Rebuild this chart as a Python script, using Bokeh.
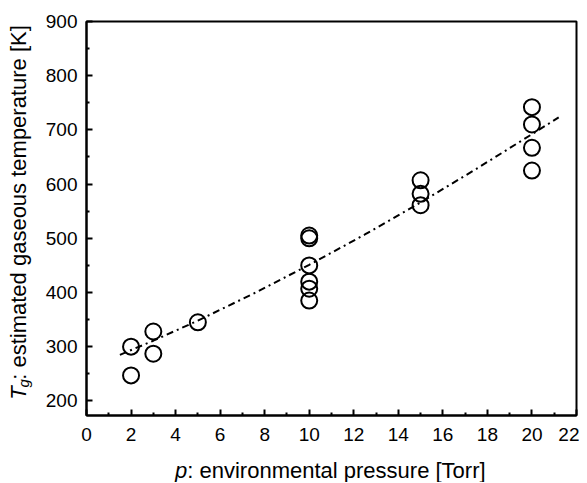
import math
from bokeh.plotting import figure
from bokeh.layouts import row, column
from bokeh.models import Range1d, FixedTicker, ColumnDataSource
from bokeh.core.properties import value
from bokeh.embed import file_html
from bokeh.resources import INLINE

# measured data: environmental pressure [Torr] vs estimated gaseous temperature [K]
pressure = [2, 2, 3, 3, 5, 10, 10, 10, 10, 10, 10, 15, 15, 15, 20, 20, 20, 20]
temperature = [300, 247, 328, 287, 345, 505, 500, 450, 420, 407, 385,
               607, 582, 561, 742, 710, 667, 625]

# fitted curve
fit_p = [1.5, 3, 5, 7.5, 10, 12.5, 15, 17.5, 20, 21.2]
fit_t = [285, 311, 348, 398, 451, 507, 566, 628, 692, 723]

x_ticks = [0, 2, 4, 6, 8, 10, 12, 14, 16, 18, 20, 22]
x_minor = [1, 3, 5, 7, 9, 11, 13, 15, 17, 19, 21]
y_ticks = [200, 300, 400, 500, 600, 700, 800, 900]
y_minor = [250, 350, 450, 550, 650, 750, 850]

x_title_parts = ["p", ": environmental pressure [Torr]"]
y_title_parts = ["T", "g", ": estimated gaseous temperature [K]"]

FONT = "Liberation Sans"
FS = 22      # axis title font size
SUB_FS = 15  # subscript size
YLAB_W = 40
MAIN_W = 539
MAIN_H = 450
XLAB_H = 32

# ---------------- main plot ----------------
p = figure(width=MAIN_W, height=MAIN_H, output_backend="svg", toolbar_location=None,
           x_range=Range1d(0, 22), y_range=Range1d(173, 900))
p.min_border_left = 46
p.min_border_right = 3
p.min_border_top = 21
p.min_border_bottom = 35
p.background_fill_color = "white"
p.border_fill_color = "white"
p.xgrid.visible = False
p.ygrid.visible = False
p.outline_line_color = "black"
p.outline_line_width = 2

p.xaxis.ticker = FixedTicker(ticks=x_ticks, minor_ticks=x_minor)
p.yaxis.ticker = FixedTicker(ticks=y_ticks, minor_ticks=y_minor)
for ax in (p.xaxis[0], p.yaxis[0]):
    ax.axis_line_width = 2
    ax.axis_line_color = "black"
    ax.major_tick_in = 6
    ax.major_tick_out = 0
    ax.minor_tick_in = 3
    ax.minor_tick_out = 0
    ax.major_tick_line_width = 2
    ax.minor_tick_line_width = 2
    ax.major_tick_line_color = "black"
    ax.minor_tick_line_color = "black"
    ax.major_label_text_font = FONT
    ax.major_label_text_font_size = "19px"
    ax.major_label_text_color = "black"
p.xaxis.major_label_standoff = 12
p.yaxis.major_label_standoff = 9

src_fit = ColumnDataSource(dict(x=fit_p, y=fit_t))
p.line("x", "y", source=src_fit, line_color="black", line_width=2,
       line_dash="7 4 2 4")

src = ColumnDataSource(dict(x=pressure, y=temperature))
p.scatter("x", "y", source=src, marker="circle", size=16, fill_color=None,
          line_color="black", line_width=2)


def blank(w, h):
    f = figure(width=w, height=h, output_backend="svg", toolbar_location=None,
               x_range=Range1d(0, w), y_range=Range1d(0, h),
               x_axis_type=None, y_axis_type=None, min_border=0,
               min_border_left=0, min_border_right=0, min_border_top=0,
               min_border_bottom=0)
    f.outline_line_color = None
    f.xgrid.visible = False
    f.ygrid.visible = False
    f.background_fill_color = "white"
    f.border_fill_color = "white"
    return f


# ---------------- x axis title ----------------
xl = blank(YLAB_W + MAIN_W, XLAB_H)
wp = 0.556 * FS
wrest = 13.67 * FS
cx = YLAB_W + 46 + 245   # centre of plot frame
x0 = cx - (wp + wrest) / 2
base_y = 12
xl.text(x=[x0], y=[base_y], text=[x_title_parts[0]], text_font=value(FONT),
        text_font_style=value("italic"), text_font_size=value(f"{FS}px"),
        text_align=value("left"), text_baseline=value("alphabetic"), text_color="black")
xl.text(x=[x0 + wp], y=[base_y], text=[x_title_parts[1]], text_font=value(FONT),
        text_font_size=value(f"{FS}px"),
        text_align=value("left"), text_baseline=value("alphabetic"), text_color="black")

# ---------------- y axis title ----------------
yl = blank(YLAB_W, MAIN_H)
bx = 18
y0 = 18
wT = 0.611 * FS
wg = 0.556 * SUB_FS
ang = math.pi / 2
yl.text(x=[bx], y=[y0], text=[y_title_parts[0]], angle=ang, text_font=value(FONT),
        text_font_style=value("italic"), text_font_size=value(f"{FS}px"),
        text_align=value("left"), text_baseline=value("alphabetic"), text_color="black")
yl.text(x=[bx + 5], y=[y0 + wT + 0.5], text=[y_title_parts[1]], angle=ang,
        text_font=value(FONT), text_font_style=value("italic"),
        text_font_size=value(f"{SUB_FS}px"),
        text_align=value("left"), text_baseline=value("alphabetic"), text_color="black")
yl.text(x=[bx], y=[y0 + wT + wg + 1], text=[y_title_parts[2]], angle=ang,
        text_font=value(FONT), text_font_size=value(f"{FS}px"),
        text_align=value("left"), text_baseline=value("alphabetic"), text_color="black")

layout = column(row(yl, p, spacing=0), xl, spacing=0)

open("out.html", "w").write(file_html(layout, INLINE))
